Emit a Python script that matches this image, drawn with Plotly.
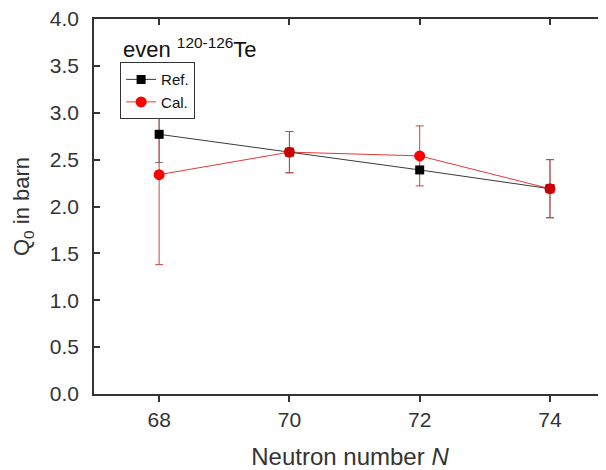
"""Quadrupole moment Q0 of even Te isotopes: reference vs calculated values."""

import plotly.graph_objects as go

# Neutron numbers of the even 120-126Te isotopes
n_values = [68, 70, 72, 74]

# Reference values (black squares) and their uncertainties, in barn
ref_q0 = [2.77, 2.58, 2.39, 2.19]
ref_err = [0.30, 0.22, 0.0, 0.31]

# Calculated values (red circles) and their uncertainties, in barn
cal_q0 = [2.34, 2.58, 2.54, 2.19]
cal_err = [0.96, 0.22, 0.32, 0.31]

x_ticks = [68, 70, 72, 74]
y_ticks = [0.0, 0.5, 1.0, 1.5, 2.0, 2.5, 3.0, 3.5, 4.0]

FONT = "Arial, Liberation Sans, sans-serif"
AXIS_COLOR = "#333333"

# where both series coincide the reference square is shown in red
ref_colors = ["#c40000" if abs(r - c) < 0.005 else "black" for r, c in zip(ref_q0, cal_q0)]

fig = go.Figure()

# reference error bars go underneath everything else
fig.add_trace(
    go.Scatter(
        x=n_values,
        y=ref_q0,
        mode="markers",
        marker=dict(color="rgba(0,0,0,0)", size=1),
        error_y=dict(type="data", array=ref_err, visible=True, color="#777777", thickness=1, width=4),
        showlegend=False,
        hoverinfo="skip",
    )
)

fig.add_trace(
    go.Scatter(
        x=n_values,
        y=cal_q0,
        mode="lines+markers",
        name="Cal.",
        legendrank=2,
        line=dict(color="#e03a3a", width=1),
        marker=dict(symbol="circle", size=11, color="#ff0000", line=dict(width=0)),
        error_y=dict(type="data", array=cal_err, visible=True, color="#cc4444", thickness=1, width=4),
    )
)

fig.add_trace(
    go.Scatter(
        x=n_values,
        y=ref_q0,
        mode="lines+markers",
        name="Ref.",
        legendrank=1,
        line=dict(color="#3a3a3a", width=1),
        marker=dict(symbol="square", size=9, color=ref_colors, line=dict(width=0)),
    )
)

# carrier trace for the mirrored top axis
fig.add_trace(
    go.Scatter(
        x=n_values,
        y=ref_q0,
        xaxis="x2",
        mode="markers",
        marker=dict(opacity=0),
        showlegend=False,
        hoverinfo="skip",
    )
)

fig.add_annotation(
    text="even <sup>120-126</sup>Te",
    xref="paper",
    yref="paper",
    x=0.052,
    y=0.881,
    xanchor="left",
    yanchor="bottom",
    showarrow=False,
    font=dict(family=FONT, size=22, color="#111111"),
)

# the page body adds an 8 px margin, so the figure is 8 px smaller and shifted
fig.update_layout(
    width=598,
    height=462,
    margin=dict(l=86, r=0, t=11, b=76),
    paper_bgcolor="white",
    plot_bgcolor="white",
    font=dict(family=FONT, color=AXIS_COLOR),
    showlegend=True,
    legend=dict(
        x=0.051,
        y=0.885,
        xanchor="left",
        yanchor="top",
        bgcolor="white",
        bordercolor=AXIS_COLOR,
        borderwidth=1,
        font=dict(family=FONT, size=15, color="#111111"),
        itemwidth=30,
        tracegroupgap=0,
    ),
    xaxis=dict(
        range=[67, 74.86],
        tickvals=x_ticks,
        ticks="outside",
        ticklen=6,
        tickwidth=1.5,
        tickcolor=AXIS_COLOR,
        showline=True,
        linecolor=AXIS_COLOR,
        linewidth=1.5,
        showgrid=False,
        zeroline=False,
        automargin=False,
        ticklabeloverflow="allow",
        tickfont=dict(size=21, color=AXIS_COLOR),
        title=dict(text="Neutron number <i>N</i>", font=dict(size=24, color=AXIS_COLOR), standoff=20),
    ),
    xaxis2=dict(
        range=[67, 74.86],
        overlaying="x",
        side="top",
        anchor="y",
        tickvals=x_ticks,
        ticks="inside",
        ticklen=6,
        tickwidth=1.5,
        tickcolor=AXIS_COLOR,
        showticklabels=False,
        showline=True,
        linecolor=AXIS_COLOR,
        linewidth=1.5,
        showgrid=False,
        zeroline=False,
        automargin=False,
    ),
    yaxis=dict(
        range=[0, 4.0],
        tickvals=y_ticks,
        tickformat=".1f",
        ticks="inside",
        ticklen=6,
        tickwidth=1.5,
        tickcolor=AXIS_COLOR,
        ticklabelstandoff=9,
        ticklabeloverflow="allow",
        showline=True,
        linecolor=AXIS_COLOR,
        linewidth=1.5,
        showgrid=False,
        zeroline=False,
        automargin=False,
        tickfont=dict(size=21, color=AXIS_COLOR),
        title=dict(text="Q<sub>0</sub> in barn", font=dict(size=22, color=AXIS_COLOR), standoff=14),
    ),
)

fig.write_html("out.html")
